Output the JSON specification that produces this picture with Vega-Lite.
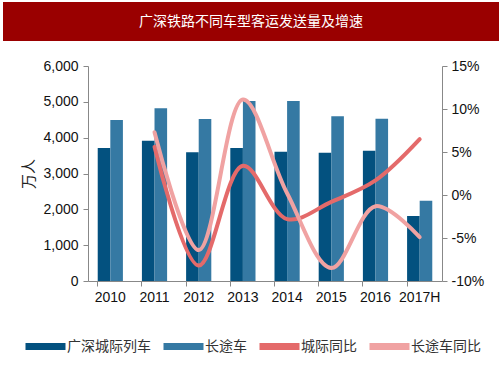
{
  "$schema": "https://vega.github.io/schema/vega-lite/v6.json",
  "padding": {"left": 3, "top": 2, "right": 2, "bottom": 0},
  "background": "white",
  "config": {"view": {"stroke": null}, "font": "Liberation Sans", "legend": {"layout": {"bottom": {"anchor": "middle"}}}},
  "bounds": "flush",
  "spacing": 25,
  "datasets": {
    "bars": [
      {"year": "2010", "series": "广深城际列车", "value": 3712},
      {"year": "2011", "series": "广深城际列车", "value": 3916},
      {"year": "2012", "series": "广深城际列车", "value": 3591},
      {"year": "2013", "series": "广深城际列车", "value": 3712},
      {"year": "2014", "series": "广深城际列车", "value": 3609},
      {"year": "2015", "series": "广深城际列车", "value": 3581},
      {"year": "2016", "series": "广深城际列车", "value": 3637},
      {"year": "2017H", "series": "广深城际列车", "value": 1814},
      {"year": "2010", "series": "长途车", "value": 4493},
      {"year": "2011", "series": "长途车", "value": 4819},
      {"year": "2012", "series": "长途车", "value": 4521},
      {"year": "2013", "series": "长途车", "value": 5023},
      {"year": "2014", "series": "长途车", "value": 5023},
      {"year": "2015", "series": "长途车", "value": 4595},
      {"year": "2016", "series": "长途车", "value": 4530},
      {"year": "2017H", "series": "长途车", "value": 2242}
    ],
    "lines": [
      {"year": "2011", "series": "城际同比", "pct": 5.6},
      {"year": "2012", "series": "城际同比", "pct": -8.2},
      {"year": "2013", "series": "城际同比", "pct": 3.4},
      {"year": "2014", "series": "城际同比", "pct": -2.8},
      {"year": "2015", "series": "城际同比", "pct": -0.8},
      {"year": "2016", "series": "城际同比", "pct": 1.7},
      {"year": "2017H", "series": "城际同比", "pct": 6.5},
      {"year": "2011", "series": "长途车同比", "pct": 7.3},
      {"year": "2012", "series": "长途车同比", "pct": -6.4},
      {"year": "2013", "series": "长途车同比", "pct": 11.1},
      {"year": "2014", "series": "长途车同比", "pct": 0.2},
      {"year": "2015", "series": "长途车同比", "pct": -8.5},
      {"year": "2016", "series": "长途车同比", "pct": -1.3},
      {"year": "2017H", "series": "长途车同比", "pct": -4.9}
    ]
  },
  "vconcat": [
    {
      "width": 496,
      "height": 39,
      "view": {"fill": "#9a0000", "stroke": null},
      "data": {"values": [{"t": "广深铁路不同车型客运发送量及增速"}]},
      "mark": {"type": "text", "color": "white", "fontSize": 14, "font": "Noto Sans CJK SC", "baseline": "middle", "align": "center"},
      "encoding": {"text": {"field": "t"}}
    },
    {
      "bounds": "flush",
      "spacing": 0,
      "hconcat": [
        {
          "width": 85,
          "height": 215,
          "data": {"values": [{"t": ""}]},
          "mark": {"type": "text"},
          "encoding": {"text": {"field": "t"}}
        },
        {
          "width": 354,
          "height": 215,
          "layer": [
            {
              "data": {"name": "bars"},
              "mark": {"type": "bar"},
              "encoding": {
                "x": {
                  "field": "year", "type": "nominal",
                  "scale": {"domain": ["2010","2011","2012","2013","2014","2015","2016","2017H"], "paddingInner": 0.43, "paddingOuter": 0.22},
                  "axis": {"title": null, "labelAngle": 0, "labelFontSize": 14, "labelColor": "#111", "domainColor": "#888", "tickColor": "#888", "tickSize": 5, "bandPosition": 0, "labelPadding": 4}
                },
                "xOffset": {"field": "series", "type": "nominal", "sort": ["广深城际列车", "长途车"], "scale": {"paddingInner": 0, "paddingOuter": 0}},
                "y": {
                  "field": "value", "type": "quantitative",
                  "scale": {"domain": [0, 6000], "nice": false},
                  "axis": {"title": "万人", "titleFont": "Noto Sans CJK SC", "titleFontSize": 15, "titleFontWeight": "normal", "titleColor": "#222", "titlePadding": 6, "values": [0,1000,2000,3000,4000,5000,6000], "format": ",d", "labelFontSize": 14, "labelColor": "#111", "domainColor": "#888", "tickColor": "#888", "tickSize": 5, "labelPadding": 5, "grid": false}
                },
                "color": {
                  "field": "series", "type": "nominal",
                  "scale": {"domain": ["广深城际列车", "长途车", "城际同比", "长途车同比"], "range": ["#03517f", "#3579a3", "#e46a6a", "#f0a2a2"]},
                  "legend": {"title": null, "orient": "bottom", "offset": 19, "direction": "horizontal", "gridAlign": "none", "symbolType": "stroke", "symbolSize": 1600, "symbolStrokeWidth": 7, "labelFont": "Noto Sans CJK SC", "labelFontSize": 14, "labelColor": "#333", "labelOffset": -2, "columnPadding": -2}
                }
              }
            },
            {
              "data": {"name": "lines"},
              "mark": {"type": "line", "interpolate": "catmull-rom", "strokeWidth": 4, "strokeCap": "round"},
              "encoding": {
                "x": {"field": "year", "type": "nominal"},
                "y": {
                  "field": "pct", "type": "quantitative",
                  "scale": {"domain": [-10, 15], "nice": false},
                  "axis": {"orient": "right", "title": null, "values": [-10,-5,0,5,10,15], "labelExpr": "datum.value + '%'", "labelFontSize": 14, "labelColor": "#111", "domainColor": "#888", "tickColor": "#888", "tickSize": 5, "labelPadding": 4, "grid": false}
                },
                "color": {"field": "series", "type": "nominal"}
              }
            }
          ],
          "resolve": {"scale": {"y": "independent"}}
        }
      ]
    }
  ]
}
